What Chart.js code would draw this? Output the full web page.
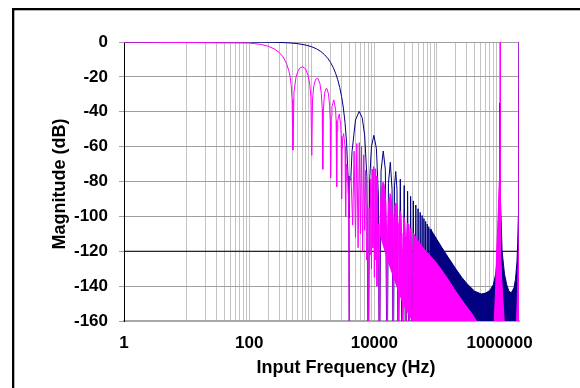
<!DOCTYPE html>
<html>
<head>
<meta charset="utf-8">
<script src="https://cdn.jsdelivr.net/npm/chart.js@4.4.1/dist/chart.umd.min.js"></script>
<style>
  html, body { margin: 0; padding: 0; background: #fff; }
  .chartBox { width: 580px; height: 388px; position: relative; }
</style>
</head>
<body>
<div class="chartBox"><canvas id="myChart"></canvas></div>
<script>
// axis values
const xTickLabels = [1, 100, 10000, 1000000];
const xMin = 1;
const xMax = 2048000;
const yMin = -160;
const yMax = 0;
const yStep = 20;
const limitLevel = -120;

// [frequency Hz, magnitude dB]
const navyMain = [[1,0],[100,-0.01],[200,-0.11],[300,-0.24],[400,-0.43],[500,-0.67],[600,-0.97],[800,-1.74],[1000,-2.74],[1200,-3.98],[1400,-5.48],[1600,-7.26],[1800,-9.34],[2000,-11.77],[2200,-14.57],[2400,-17.83],[2600,-21.6],[2800,-26.06],[3000,-31.36],[3200,-37.86],[3400,-46.2],[3600,-57.7],[3800,-76.8],[3920,-101],[4000,-200]];

const navyLobes = [[4200,-79.4],[4400,-62.9],[5000,-44.7],[5720,-39.8],[6400,-43.4],[7000,-53.4],[7600,-77.2],[8000,-200],
  [8400,-79.8],[9000,-60],[9840,-53.5],[10800,-61.2],[11600,-88.2],[12000,-200],
  [12800,-74],[13880,-62.5],[15000,-73.3],[16000,-200],[16800,-81.1],[18000,-69],[19200,-84.6],[20000,-200],
  [21000,-82.1],[22000,-74.3],[23000,-84.5],[24000,-200],[26000,-78.6],[28000,-200],[30000,-82.3],[32000,-200],
  [34000,-85.6],[36000,-200],[38000,-88.5],[40000,-200],[42000,-91.1],[44000,-200],[46000,-93.5],[48000,-200],
  [50000,-95.6],[52000,-200],[54000,-97.7],[56000,-200],[58000,-99.5],[60000,-200],[62000,-101.3],[64000,-200],
  [66000,-102.9],[68000,-200],[70000,-104.4],[72000,-200],[74000,-105.9],[76000,-200],[78000,-107.2],[80000,-200]];

const navyBand = [[80000,-107.6],[90000,-110.6],[100000,-113.3],[120000,-117.9],[150000,-123.3],[200000,-130.1],
  [250000,-135],[300000,-138.5],[400000,-142.9],[512000,-144.5],[600000,-144],[700000,-142.5],[800000,-139],
  [870000,-133],[930000,-122],[970000,-105],[1000000,-85],[1015000,-55],[1020000,-35],[1024000,0],[1028000,-35],
  [1035000,-60],[1050000,-90],[1100000,-120],[1200000,-133],[1300000,-139],[1400000,-142.5],[1536000,-144],
  [1700000,-141],[1800000,-136],[1900000,-126],[1950000,-116],[2000000,-100],[2020000,-85],[2040000,-55],[2048000,0]];

const magentaMain = [[1,0],[100,-0.6],[150,-1.3],[200,-2.4],[250,-3.9],[300,-5.9],[350,-8.6],[400,-12.9],[430,-16.5],
  [450,-19.6],[470,-25],[485,-33],[500,-62],[520,-28.8],[560,-20.2],[600,-16.8],[650,-14.8],[715,-14.2],[800,-15.6],
  [870,-18.9],[930,-24.3],[970,-32],[1000,-65],[1030,-32.7],[1080,-25.1],[1150,-21.4],[1250,-20.8],[1350,-23.8],
  [1420,-29.4],[1470,-38.2],[1500,-73],[1530,-39],[1600,-29.5],[1680,-26.8],[1750,-26.7],[1850,-29.8],[1930,-36.5],
  [1975,-45.7],[2000,-78],[2050,-42.5],[2100,-37],[2250,-33.2],[2400,-38.5],[2450,-45],[2500,-83],[2550,-51],
  [2600,-45],[2750,-41.3],[2900,-47.5],[2950,-54],[3000,-90],[3050,-61],[3100,-56],[3230,-52.5],[3400,-60],
  [3450,-67],[3500,-100],[3530,-80],[3570,-73],[3650,-70],[3780,-77],[3880,-90],[4000,-200]];

const magentaSub = [[4250,-77.9],[4500,-105],[4750,-62.6],[5000,-112],[5250,-58.2],[5500,-118],[5750,-57.7],[6000,-110],
  [6250,-59.9],[6500,-120],[6750,-64.7],[7000,-108],[7250,-73.6],[7500,-125],[7750,-93.5],[8000,-200],
  [8250,-95.1],[8500,-122],[8750,-78.5],[9000,-130],[9250,-72.9],[9500,-118],[9750,-71.4],[10000,-135],
  [10250,-72.7],[10500,-125],[10750,-76.9],[11000,-140],[11250,-85],[11500,-128],[11750,-104.4],[12000,-200]];

const magentaBand = [[12000,-200],[12250,-105.4],[12750,-88.3],[13250,-82.3],[13750,-80.4],[14250,-81.3],[14750,-85.1],
  [15250,-93],[15750,-112],[16000,-200],[16250,-112.8],[16750,-95.4],[17250,-89.2],[17750,-87],[18250,-87.8],
  [18750,-91.3],[19250,-99],[19750,-117.9],[20000,-200],[20250,-118.5],[20750,-101],[21250,-94.6],[21750,-92.3],
  [22250,-92.9],[22750,-96.4],[23250,-104],[23750,-122.7],[24000,-200],[24250,-125],[24750,-105.6],[25500,-96.8],
  [26500,-98.5],[27250,-108],[27750,-127],[28000,-200],[28250,-128],[28750,-109.5],[29500,-100.5],[30500,-101.5],
  [31250,-111.7],[31750,-130],[32000,-200],[32250,-131],[32750,-112.5],[33500,-103.8],[34500,-104.6],[35250,-114.5],
  [35750,-133],[36000,-200],[36250,-134],[36750,-115.5],[37500,-106.7],[38500,-107.4],[39250,-117],[39750,-135],
  [40000,-200],[42000,-109.5],[46000,-112],[50000,-114],[60000,-118],[80000,-123],[100000,-127],[120000,-131],
  [150000,-136],[200000,-143],[250000,-148],[300000,-152],[350000,-155],[430000,-160],[480000,-163],[700000,-170],
  [800000,-165],[823000,-160],[870000,-140],[899000,-120],[950000,-100],[990000,-80],[1010000,-60],[1020000,-40],
  [1024000,0],[1028000,-40],[1040000,-80],[1052000,-120],[1100000,-140],[1189000,-160],[1250000,-165],
  [1500000,-175],[1800000,-165],[1870000,-160],[1950000,-140],[2000000,-120],[2030000,-90],[2045000,-50],[2048000,0]];

// lower edge of the dense magenta area (below it only the deepest nulls reach)
const magentaFloor = [[12000,-110],[14000,-118],[16000,-125],[20000,-135],[25000,-145],[30000,-152],[40000,-160],
  [50000,-170],[2048000,-170]];

const limitLine = [[xMin, limitLevel], [2000000, limitLevel]];

const toXY = (pts) => pts.map(([x, y]) => ({ x: x, y: y }));

// gridlines: every 1..9 step from 10 upward, none inside the first decade
const gridValues = [xMin];
for (let e = 1; e <= 6; e++) {
  for (let m = 1; m <= 9; m++) {
    const v = m * Math.pow(10, e);
    if (v < xMax) gridValues.push(v);
  }
}

const NAVY = "#000080";
const MAGENTA = "#ff00ff";
const FONT = "Arial, 'Liberation Sans', sans-serif";

const framePlugin = {
  id: "frame",
  beforeDraw(chart) {
    const ctx = chart.ctx;
    ctx.save();
    ctx.fillStyle = "#ffffff";
    ctx.fillRect(0, 0, chart.width, chart.height);
    ctx.fillStyle = "#000000";
    ctx.fillRect(12, 8, chart.width - 12, 2.3);
    ctx.fillRect(12, 8, 2.3, chart.height - 8);
    ctx.restore();
  },
  beforeDatasetsDraw(chart) {
    const a = chart.chartArea;
    const ctx = chart.ctx;
    ctx.save();
    ctx.strokeStyle = "#a0a0a0";
    ctx.lineWidth = 1;
    ctx.beginPath();
    ctx.moveTo(a.left, a.top + 0.5);
    ctx.lineTo(a.right - 0.5, a.top + 0.5);
    ctx.lineTo(a.right - 0.5, a.bottom);
    ctx.stroke();
    ctx.restore();
  },
  afterDraw(chart) {
    const ctx = chart.ctx;
    ctx.save();
    ctx.fillStyle = "#000000";
    ctx.font = "bold 18px " + FONT;
    ctx.textAlign = "center";
    ctx.textBaseline = "alphabetic";
    ctx.fillText("Input Frequency (Hz)", 346, 373);
    ctx.translate(65, 184);
    ctx.rotate(-Math.PI / 2);
    ctx.fillText("Magnitude (dB)", 0, 0);
    ctx.restore();
  }
};

const lineSet = (pts, color, fill, width) => ({
  data: toXY(pts),
  borderColor: color,
  backgroundColor: color,
  borderWidth: width === undefined ? 1 : width,
  pointRadius: 0,
  tension: 0,
  fill: fill,
  clip: 0
});

const ctx = document.getElementById("myChart").getContext("2d");
const myChart = new Chart(ctx, {
  type: "line",
  data: {
    datasets: [
      lineSet(magentaBand, MAGENTA, 1),
      lineSet(magentaFloor, MAGENTA, false, 0),
      lineSet(magentaSub, MAGENTA, false),
      lineSet(magentaMain, MAGENTA, false),
      lineSet(navyBand, NAVY, "start"),
      lineSet(navyLobes, NAVY, false),
      lineSet(navyMain, NAVY, false),
      lineSet(limitLine, "#000000", false)
    ]
  },
  options: {
    responsive: true,
    maintainAspectRatio: false,
    animation: false,
    events: [],
    layout: { padding: { top: 42, right: 61, bottom: 0, left: 0 } },
    plugins: { legend: { display: false }, tooltip: { enabled: false } },
    scales: {
      x: {
        type: "logarithmic",
        min: xMin,
        max: xMax,
        afterFit: (scale) => { scale.height = 67; },
        afterBuildTicks: (scale) => { scale.ticks = gridValues.map((v) => ({ value: v })); },
        ticks: {
          autoSkip: false,
          maxRotation: 0,
          minRotation: 0,
          padding: 12,
          color: "#000",
          font: { family: FONT, size: 17, weight: "bold" },
          callback: (value) => (xTickLabels.includes(value) ? String(value) : "")
        },
        grid: { color: "#c4c4c4", lineWidth: 1, drawTicks: false },
        border: { color: "#a8a8a8", width: 2 }
      },
      y: {
        min: yMin,
        max: yMax,
        afterFit: (scale) => { scale.width = 124; },
        ticks: {
          stepSize: yStep,
          padding: 11,
          color: "#000",
          font: { family: FONT, size: 17, weight: "bold" }
        },
        grid: { color: "#a0a0a0", lineWidth: 1, drawTicks: true, tickLength: 5 },
        border: { color: "#000", width: 1 }
      }
    }
  },
  plugins: [framePlugin]
});
</script>
</body>
</html>
